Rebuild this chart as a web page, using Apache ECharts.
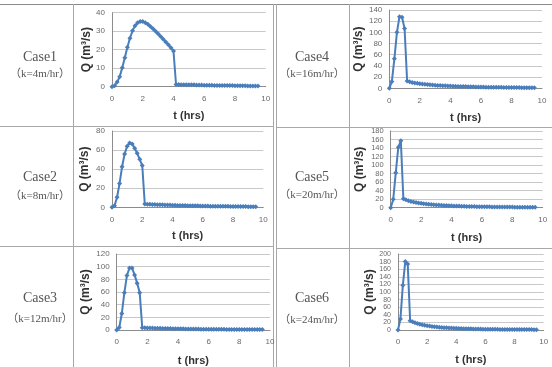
<!DOCTYPE html>
<html>
<head>
<meta charset="utf-8">
<script src="https://cdn.jsdelivr.net/npm/echarts@6/dist/echarts.min.js"></script>
<style>
html, body { margin: 0; padding: 0; background: #fff; }
#main { width: 552px; height: 367px; }
</style>
</head>
<body>
<div id="main"></div>
<script>
// row labels of the table
const caseNames = ['Case1', 'Case2', 'Case3', 'Case4', 'Case5', 'Case6']
const caseParams = ['（k=4m/hr）', '（k=8m/hr）', '（k=12m/hr）', '（k=16m/hr）', '（k=20m/hr）', '（k=24m/hr）']

// sampling interval of the hydrographs (10 min)
const stepHrs = 1 / 6

// x ticks (hrs) and y axis ranges
const xMax = 10
const xStep = 2
const yMax = [40, 80, 120, 140, 180, 200]
const yStep = [10, 20, 20, 20, 20, 20]

// discharge Q (m3/s)
const q1 = [0, 0.5, 2.5, 5.4, 10.3, 15.7, 21.3, 26.2, 30.2, 33.0, 34.6, 35.3, 35.2,
  34.6, 33.7, 32.6, 31.3, 30.0, 28.6, 27.2, 25.7, 24.2, 22.7, 21.1, 19.3,
  1.2, 1.2, 1.1, 1.1, 1.1, 1.0, 1.0, 1.0, 0.9, 0.9, 0.9, 0.8, 0.8, 0.8, 0.8,
  0.7, 0.7, 0.7, 0.7, 0.6, 0.6, 0.6, 0.6, 0.5, 0.5, 0.5, 0.5, 0.5, 0.4, 0.4, 0.4, 0.4, 0.4]
const q2 = [0, 1.5, 10.5, 25, 42.5, 56, 64, 67.5, 66.4, 62, 56.6, 50.3, 43.7, 3.5,
  3.3, 3.2, 3.0, 2.9, 2.8, 2.7, 2.6, 2.5, 2.4, 2.3, 2.2, 2.1, 2.0, 1.9, 1.9, 1.8, 1.7, 1.7, 1.6, 1.5,
  1.5, 1.4, 1.4, 1.3, 1.3, 1.2, 1.2, 1.1, 1.1, 1.1, 1.0, 1.0, 1.0, 0.9, 0.9, 0.9, 0.8, 0.8, 0.8, 0.8,
  0.7, 0.7, 0.7, 0.7]
const q3 = [0, 4, 26, 59, 86, 98, 98, 87, 74, 59, 3.5,
  3.4, 3.3, 3.2, 3.0, 2.9, 2.8, 2.6, 2.5, 2.4, 2.3, 2.2, 2.1, 2.0, 1.9, 1.8, 1.8, 1.7, 1.6, 1.6, 1.5,
  1.4, 1.4, 1.3, 1.3, 1.2, 1.2, 1.1, 1.1, 1.1, 1.0, 1.0, 1.0, 0.9, 0.9, 0.9, 0.9, 0.8, 0.8, 0.8, 0.8,
  0.7, 0.7, 0.7, 0.7, 0.6, 0.6, 0.6]
const q4 = [0, 12, 53, 100, 128, 127, 107, 13,
  11.5, 10.5, 9.6, 8.9, 8.2, 7.6, 7.1, 6.6, 6.2, 5.8, 5.5, 5.2, 4.9, 4.6, 4.4, 4.2, 4.0, 3.8, 3.6, 3.4,
  3.3, 3.1, 3.0, 2.9, 2.7, 2.6, 2.5, 2.4, 2.3, 2.2, 2.1, 2.0, 1.9, 1.9, 1.8, 1.7, 1.7, 1.6, 1.5, 1.5,
  1.4, 1.4, 1.3, 1.3, 1.2, 1.2, 1.1, 1.1, 1.0, 1.0]
const q5 = [0, 19.6, 82, 142, 157, 21,
  18.5, 16.5, 14.8, 13.4, 12.2, 11.1, 10.2, 9.4, 8.7, 8.1, 7.5, 7.0, 6.5, 6.1, 5.7, 5.3, 5.0, 4.7, 4.4, 4.2,
  3.9, 3.7, 3.5, 3.3, 3.1, 3.0, 2.8, 2.7, 2.5, 2.4, 2.3, 2.2, 2.1, 2.0, 1.9, 1.8, 1.7, 1.7, 1.6, 1.5,
  1.5, 1.4, 1.4, 1.3, 1.3, 1.2, 1.2, 1.1, 1.1, 1.0, 1.0, 1.0]
const q6 = [0, 29, 118, 180, 174, 24.5,
  21.5, 19, 17, 15.2, 13.7, 12.4, 11.3, 10.3, 9.4, 8.6, 7.9, 7.3, 6.7, 6.2, 5.8, 5.4, 5.0, 4.7, 4.4, 4.1,
  3.8, 3.6, 3.4, 3.2, 3.0, 2.8, 2.7, 2.5, 2.4, 2.3, 2.2, 2.1, 2.0, 1.9, 1.8, 1.7, 1.6, 1.6, 1.5, 1.4,
  1.4, 1.3, 1.3, 1.2, 1.2, 1.1, 1.1, 1.0, 1.0, 1.0, 0.9, 0.9]
const flows = [q1, q2, q3, q4, q5, q6]

// plot boxes of the six panels
const panels = [
  { left: 112, top: 12.7, width: 153.7, height: 74, gapY: 19, gapX: 24, textX: 40, caseY: 57, kY: 74, yFont: 8 },
  { left: 112, top: 131, width: 151.3, height: 76.3, gapY: 21, gapX: 23.5, textX: 40, caseY: 177, kY: 196, yFont: 8 },
  { left: 116.7, top: 254, width: 153.3, height: 76, gapY: 25, gapX: 25.5, textX: 40, caseY: 298, kY: 319, yFont: 8 },
  { left: 389.3, top: 10, width: 152.7, height: 78.3, gapY: 23, gapX: 24, textX: 312, caseY: 57, kY: 74, yFont: 8 },
  { left: 390.7, top: 131, width: 152, height: 76.7, gapY: 25, gapX: 24.5, textX: 312, caseY: 177, kY: 195, yFont: 7.5 },
  { left: 398, top: 254, width: 145.7, height: 76, gapY: 22, gapX: 24, textX: 312, caseY: 298, kY: 320, yFont: 7 }
]

const blue = '#4a7ebb'
const chart = echarts.init(document.getElementById('main'))

const grids = panels.map(p => ({
  left: p.left, top: p.top, width: p.width, height: p.height, outerBoundsMode: 'none'
}))

const xAxes = panels.map((p, i) => ({
  type: 'value', gridIndex: i, min: 0, max: xMax, interval: xStep,
  axisLine: { lineStyle: { color: '#8c8c8c' } },
  axisTick: { show: false },
  splitLine: { show: false },
  axisLabel: { fontSize: 8, color: '#6a6a6a', margin: 8, fontFamily: 'Liberation Sans' },
  name: 't (hrs)', nameLocation: 'middle', nameGap: p.gapX,
  nameTextStyle: { fontWeight: 'bold', fontSize: 11, color: '#333', fontFamily: 'Liberation Sans' }
}))

const yAxes = panels.map((p, i) => ({
  type: 'value', gridIndex: i, min: 0, max: yMax[i], interval: yStep[i],
  axisLine: { show: true, lineStyle: { color: '#8c8c8c' } },
  axisTick: { show: false },
  splitLine: { lineStyle: { color: '#c8c8c8' } },
  axisLabel: { fontSize: p.yFont, color: '#6a6a6a', margin: 7, fontFamily: 'Liberation Sans' },
  name: 'Q (m³/s)', nameLocation: 'middle', nameRotate: 90, nameGap: p.gapY,
  nameTextStyle: { fontWeight: 'bold', fontSize: 12, color: '#333', fontFamily: 'Liberation Sans' }
}))

const series = flows.map((q, i) => ({
  type: 'line', xAxisIndex: i, yAxisIndex: i,
  data: q.map((v, k) => [k * stepHrs, v]),
  symbol: 'diamond', symbolSize: 5,
  lineStyle: { width: 2, color: blue },
  itemStyle: { color: blue }
}))

// table rules
const rule = (x1, y1, x2, y2, color) => ({
  type: 'line', silent: true,
  shape: { x1, y1, x2, y2 },
  style: { stroke: color || '#a8a8a8', lineWidth: 1 }
})
const tableLines = [
  rule(0, 4.5, 552, 4.5, '#8a8a8a'),
  rule(73.5, 4, 73.5, 367),
  rule(273.5, 4, 273.5, 367),
  rule(276.5, 4, 276.5, 367),
  rule(349.5, 4, 349.5, 367),
  rule(0, 126.5, 273, 126.5),
  rule(0, 246.5, 273, 246.5),
  rule(276, 127.5, 552, 127.5),
  rule(276, 248.5, 552, 248.5)
]

const caseTexts = []
panels.forEach((p, i) => {
  caseTexts.push({
    type: 'text', x: p.textX, y: p.caseY, silent: true,
    style: { text: caseNames[i], align: 'center', verticalAlign: 'middle',
      font: '14px "Liberation Serif", serif', fill: '#555' }
  })
  caseTexts.push({
    type: 'text', x: p.textX, y: p.kY, silent: true,
    style: { text: caseParams[i], align: 'center', verticalAlign: 'middle',
      font: '11px "Liberation Serif", "Noto Sans CJK SC", serif', fill: '#555' }
  })
})

chart.setOption({
  animation: false,
  grid: grids,
  xAxis: xAxes,
  yAxis: yAxes,
  series: series,
  graphic: tableLines.concat(caseTexts)
})
</script>
</body>
</html>
